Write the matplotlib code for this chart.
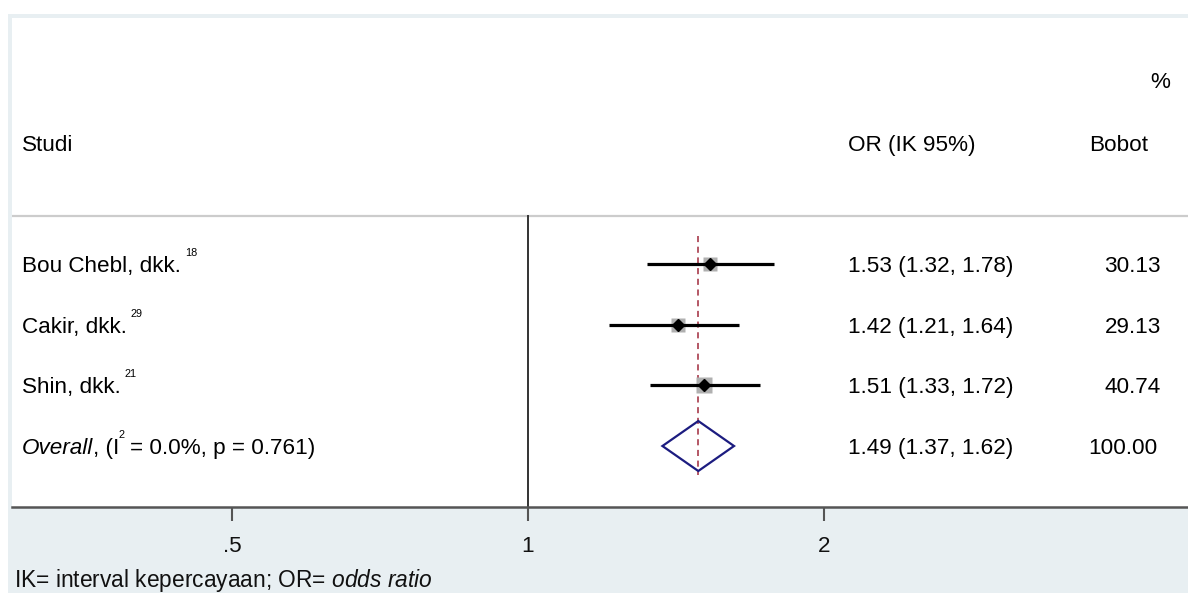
import matplotlib
matplotlib.use("Agg")
import matplotlib.pyplot as plt
from matplotlib.patches import Rectangle, Polygon
from matplotlib.transforms import blended_transform_factory, offset_copy
import numpy as np

plt.rcParams['font.family'] = ['Liberation Sans', 'DejaVu Sans']
plt.rcParams['mathtext.fontset'] = 'custom'
plt.rcParams['mathtext.rm'] = 'Liberation Sans'
plt.rcParams['mathtext.it'] = 'Liberation Sans:italic'

# ---- data ----
studies = ["Bou Chebl, dkk.", "Cakir, dkk.", "Shin, dkk."]
refs = ["18", "29", "21"]
or_est = [1.53, 1.42, 1.51]
ci_low = [1.32, 1.21, 1.33]
ci_high = [1.78, 1.64, 1.72]
weights = [30.13, 29.13, 40.74]
overall_name = "Overall"
i2_text = "0.0%"
p_text = "0.761"
overall_est = 1.49
overall_low = 1.37
overall_high = 1.62
overall_weight = 100.00
xticks = [0.5, 1, 2]
xticklabels = [".5", "1", "2"]
footnote = r"IK= interval kepercayaan; OR= $\mathit{odds\ ratio}$"

W, H = 1188, 593
fig = plt.figure(figsize=(W / 100, H / 100), dpi=100)
fig.patch.set_facecolor("white")
renderer = fig.canvas.get_renderer()

# outer graph region (light bluish)
bg = Rectangle((8 / W, 0), 1 - 8 / W, 1 - 14 / H, transform=fig.transFigure,
               facecolor="#e8eff2", edgecolor="none", zorder=-5)
fig.patches.append(bg)

# plot region
ax_l, ax_r, ax_t, ax_b = 12, 1188, 18, 507
ax = fig.add_axes([ax_l / W, 1 - ax_b / H, (ax_r - ax_l) / W, (ax_b - ax_t) / H])
ax.set_zorder(1)
ax.set_facecolor("white")
ax.set_xscale("log")
ppo = 296.0
ax.set_xlim(2 ** ((ax_l - 528) / ppo), 2 ** ((ax_r - 528) / ppo))
row_sp = 60.67
row1 = 264
def px2row(p):
    return 1 + (p - row1) / row_sp
ax.set_ylim(px2row(ax_b), px2row(ax_t))

fsz = 16.2
for s in ["top", "right", "left"]:
    ax.spines[s].set_visible(False)
ax.spines["bottom"].set_color("#555555")
ax.spines["bottom"].set_linewidth(1.8)
ax.set_yticks([])
ax.set_xticks(xticks)
ax.set_xticklabels(xticklabels, fontsize=fsz, color="#111111")
ax.xaxis.set_minor_locator(matplotlib.ticker.NullLocator())
ax.tick_params(axis="x", length=10, width=1.5, color="#555555", pad=11)

trans = blended_transform_factory(ax.transAxes, ax.transData)
def fx(p):
    return (p - ax_l) / (ax_r - ax_l)

def run(x_px, y, pieces):
    """pieces: (text, fontsize, style, gap_px_before, dy_px)"""
    x = x_px
    for txt, fs, style, gap, dy in pieces:
        x += gap
        t = ax.text(fx(x), y, txt, transform=offset_copy(trans, fig=fig, y=dy, units="dots"),
                    fontsize=fs, style=style, va="baseline", ha="left")
        x += t.get_window_extent(renderer).width

# separator line under header
sep_y = px2row(216)
ax.axhline(sep_y, color="#cccccc", lw=1.6, zorder=1)
# null line at 1
ax.plot([1, 1], [sep_y, px2row(ax_b)], color="#333333", lw=1.4, zorder=2, clip_on=False)
# overall dashed line
ax.plot([overall_est, overall_est], [px2row(236), px2row(475)], color="#a02a3c",
        lw=1.1, dashes=(4, 3), zorder=3)

rows = np.arange(1, len(studies) + 1)
base_off = 8 / row_sp
sup_fs = 7.8
sup_dy = 16
for r, lab, ref, est, lo, hi, w in zip(rows, studies, refs, or_est, ci_low, ci_high, weights):
    side = 2.6 * np.sqrt(w) * 0.72
    ax.plot([est], [r], marker="s", ms=side, color="#b0b0b0", mec="none", zorder=4)
    ax.plot([lo, hi], [r, r], color="black", lw=2.3, zorder=5, solid_capstyle="butt")
    ax.plot([est], [r], marker="D", ms=6.5, color="black", zorder=6)
    run(22, r + base_off, [(lab, fsz, "normal", 0, 0), (ref, sup_fs, "normal", 4, sup_dy)])
    ax.text(fx(848), r + base_off, f"{est:.2f} ({lo:.2f}, {hi:.2f})", transform=trans,
            fontsize=fsz, va="baseline", ha="left")
    ax.text(fx(1161), r + base_off, f"{w:.2f}", transform=trans, fontsize=fsz,
            va="baseline", ha="right")

r_ov = len(studies) + 1
hh = 25 / row_sp
diamond = Polygon([(overall_low, r_ov), (overall_est, r_ov - hh), (overall_high, r_ov),
                   (overall_est, r_ov + hh)], closed=True, facecolor="none",
                  edgecolor="#1c1c80", lw=1.6, zorder=5)
ax.add_patch(diamond)
run(22, r_ov + base_off, [(overall_name, fsz, "italic", 0, 0),
                          (", (I", fsz, "normal", 0, 0),
                          ("2", sup_fs, "normal", -1, sup_dy),
                          (f"= {i2_text}, p = {p_text})", fsz, "normal", 6, 0)])
ax.text(fx(848), r_ov + base_off, f"{overall_est:.2f} ({overall_low:.2f}, {overall_high:.2f})",
        transform=trans, fontsize=fsz, va="baseline", ha="left")
ax.text(fx(1158), r_ov + base_off, f"{overall_weight:.2f}", transform=trans, fontsize=fsz,
        va="baseline", ha="right")

# headers
hdr = px2row(143) + base_off
ax.text(fx(22), hdr, "Studi", transform=trans, fontsize=fsz, va="baseline", ha="left")
ax.text(fx(848), hdr, "OR (IK 95%)", transform=trans, fontsize=fsz, va="baseline", ha="left")
ax.text(fx(1089), hdr, "Bobot", transform=trans, fontsize=fsz, va="baseline", ha="left")
ax.text(fx(1170), px2row(80) + base_off, "%", transform=trans, fontsize=fsz, va="baseline", ha="right")

fig.text(14 / W, 1 - 587 / H, footnote, fontsize=16.4, va="baseline", ha="left", color="#111111")

fig.savefig("out.png", dpi=100, facecolor=fig.get_facecolor())
